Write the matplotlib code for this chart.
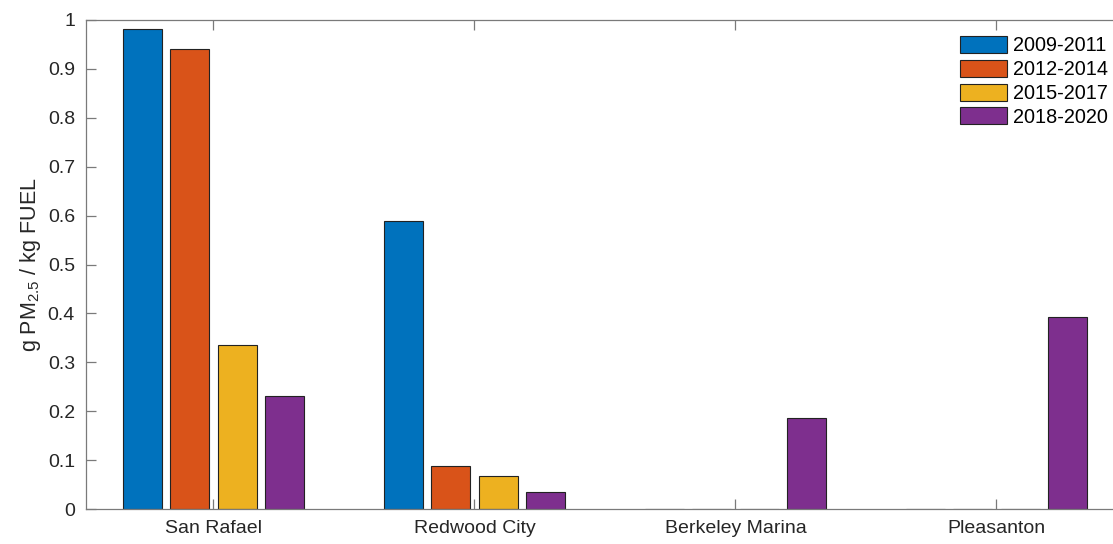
import numpy as np
import matplotlib
matplotlib.use('Agg')
import matplotlib.pyplot as plt

plt.rcParams['font.family'] = ['Liberation Sans', 'DejaVu Sans']
plt.rcParams['mathtext.fontset'] = 'custom'
plt.rcParams['mathtext.rm'] = 'Liberation Sans'
plt.rcParams['mathtext.it'] = 'Liberation Sans:italic'

sites = ['San Rafael', 'Redwood City', 'Berkeley Marina', 'Pleasanton']
periods = ['2009-2011', '2012-2014', '2015-2017', '2018-2020']
vals_0911 = [0.982, 0.589, 0.0, 0.0]
vals_1214 = [0.941, 0.088, 0.0, 0.0]
vals_1517 = [0.335, 0.068, 0.0, 0.0]
vals_1820 = [0.231, 0.035, 0.186, 0.393]
yticks = [0, 0.1, 0.2, 0.3, 0.4, 0.5, 0.6, 0.7, 0.8, 0.9, 1]
ytick_labels = ['0', '0.1', '0.2', '0.3', '0.4', '0.5', '0.6', '0.7', '0.8', '0.9', '1']

colors = ['#0072BD', '#D95319', '#EDB120', '#7E2F8E']
series = [vals_0911, vals_1214, vals_1517, vals_1820]
offsets = [-0.272, -0.092, 0.092, 0.272]
width = 0.149

fig = plt.figure(figsize=(11.13, 5.44), dpi=100)
ax = fig.add_axes([86 / 1113, 35 / 544, 1041 / 1113, 489 / 544])

x = np.arange(1, len(sites) + 1)
for vals, off, c, lab in zip(series, offsets, colors, periods):
    ax.bar(x + off, vals, width, color=c, edgecolor='#222222', linewidth=0.8, label=lab)

ax.set_xlim(0.5115, 4.5)
ax.set_ylim(0, 1)
ax.set_xticks(x)
ax.set_xticklabels(sites)
ax.set_yticks(yticks)
ax.set_yticklabels(ytick_labels)

axis_col = '#7a7a7a'
for s in ax.spines.values():
    s.set_color(axis_col)
    s.set_linewidth(0.9)
    s.set_zorder(3)
ax.tick_params(direction='in', length=7, width=0.9, color=axis_col,
               labelsize=14, labelcolor='#262626',
               top=True, right=True, pad=8)

ax.set_ylabel('g PM$_{2.5}$ / kg FUEL', fontsize=15.5, color='#262626', labelpad=3)

leg = ax.legend(loc='upper right', bbox_to_anchor=(1108 / 1113, 1 - 36 / 544),
                bbox_transform=fig.transFigure, frameon=False, fontsize=14.3,
                handlelength=2.35, handleheight=0.95, handletextpad=0.3,
                labelspacing=0.22, borderpad=0, borderaxespad=0)

fig.savefig('out.png', dpi=100)
